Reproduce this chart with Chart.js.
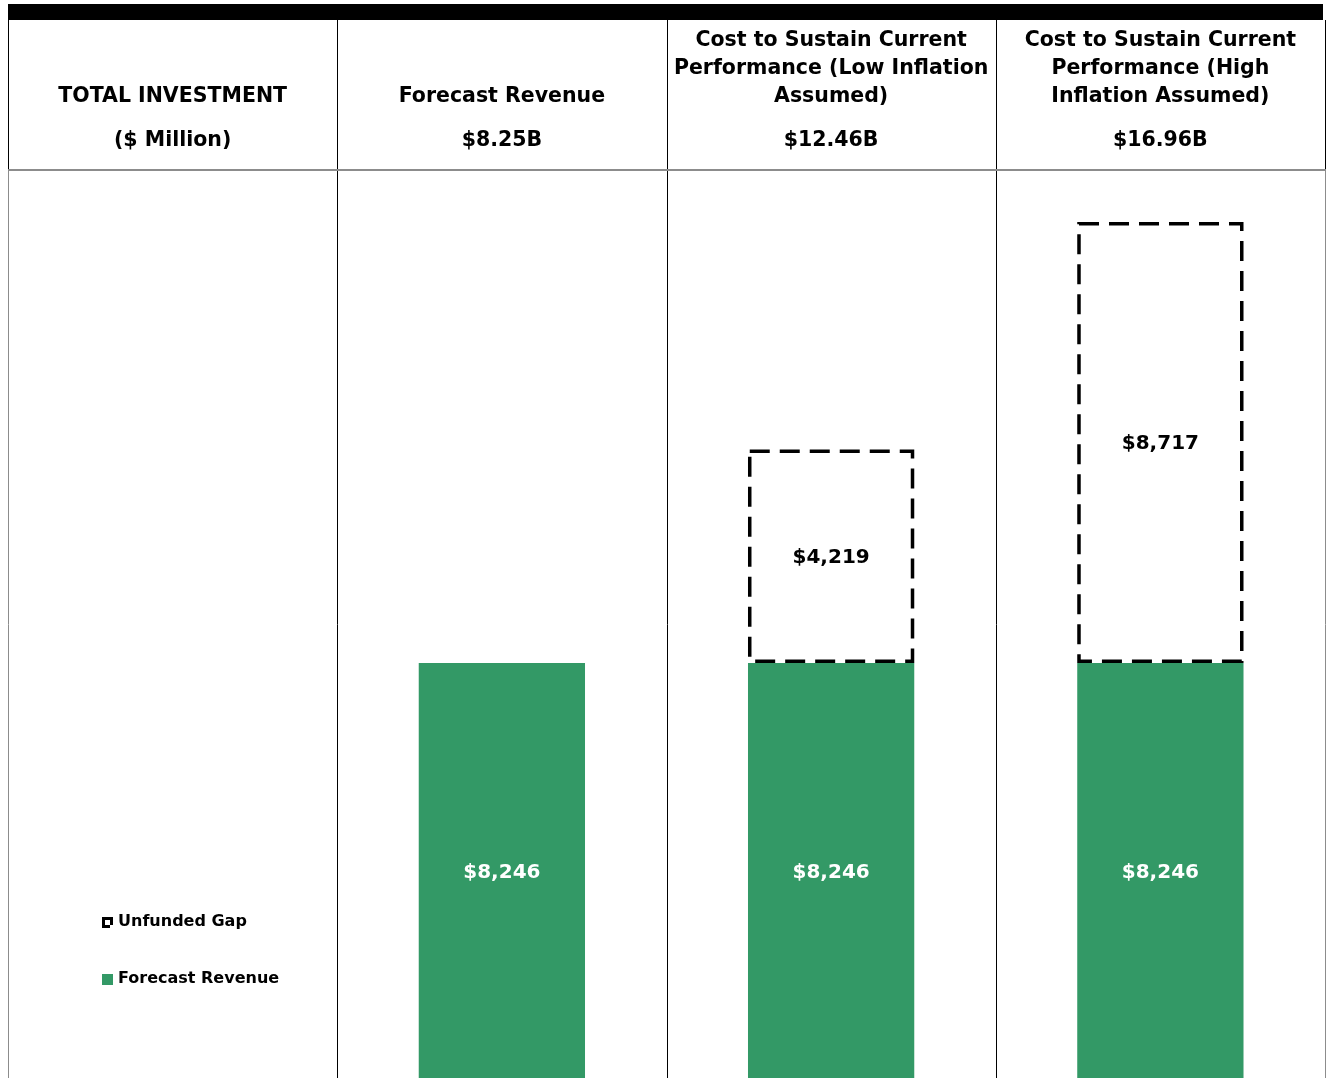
<!DOCTYPE html>
<html>
<head>
<meta charset="utf-8">
<title>Total Investment</title>
<script src="https://cdn.jsdelivr.net/npm/chart.js@4.4.1/dist/chart.umd.min.js"></script>
<style>
    html, body { margin: 0; padding: 0; background: #ffffff; }
    #wrap { width: 1330px; height: 1078px; }
</style>
</head>
<body>
<div id="wrap"><canvas id="investment-chart" width="1330" height="1078"></canvas></div>
<script>
// Table columns; the first one holds the row title and the legend
const categories = ['Total Investment', 'Forecast Revenue', 'Low Inflation', 'High Inflation'];
const headerLines = [
    ['TOTAL INVESTMENT'],
    ['Forecast Revenue'],
    ['Cost to Sustain Current', 'Performance (Low Inflation', 'Assumed)'],
    ['Cost to Sustain Current', 'Performance (High', 'Inflation Assumed)']
];
const headerTotals = ['($ Million)', '$8.25B', '$12.46B', '$16.96B'];

// Values in $ million
const forecastRevenue = [null, 8246, 8246, 8246];
const unfundedGap = [null, null, 4219, 8717];
// the bars run off the bottom edge, so the visible range starts just above zero
const yMin = 40;
const yMax = 17972;

const GREEN = '#339966';
const FONT = '"DejaVu Sans", Verdana, sans-serif';

function money(v) {
    return '$' + new Intl.NumberFormat('en-US').format(Math.round(v));
}

/**
 * Draws the header row, the column rules, value labels,
 * dashed outlines for the gap and the legend in the first column
 */
const tablePlugin = {
    id: 'tablePlugin',
    beforeDraw(chart) {
        const ctx = chart.ctx;
        const area = chart.chartArea;
        const xs = chart.scales.x;
        const half = (xs.getPixelForValue(1) - xs.getPixelForValue(0)) / 2;

        ctx.save();
        // thick black band on top
        ctx.fillStyle = '#000';
        ctx.fillRect(8, 4, 1315, 16);

        // column rules
        for (let i = 0; i <= categories.length; i++) {
            const x = Math.round(xs.getPixelForValue(i) - half) + 0.5;
            const edge = i === 0 || i === categories.length;
            ctx.strokeStyle = '#000';
            ctx.lineWidth = 1;
            ctx.beginPath();
            ctx.moveTo(x, 20);
            ctx.lineTo(x, area.top);
            ctx.stroke();
            ctx.strokeStyle = edge ? '#8c8c8c' : '#000';
            ctx.beginPath();
            ctx.moveTo(x, area.top);
            ctx.lineTo(x, chart.height);
            ctx.stroke();
        }

        // header bottom rule
        ctx.strokeStyle = '#8c8c8c';
        ctx.lineWidth = 2;
        ctx.beginPath();
        ctx.moveTo(8, area.top - 1);
        ctx.lineTo(1326, area.top - 1);
        ctx.stroke();

        // header text
        ctx.fillStyle = '#000';
        ctx.textAlign = 'center';
        ctx.textBaseline = 'middle';
        ctx.font = 'bold 20.5px ' + FONT;
        headerLines.forEach((lines, i) => {
            const cx = xs.getPixelForValue(i);
            lines.forEach((line, j) => {
                const y = 96.5 - (lines.length - 1 - j) * 28;
                ctx.fillText(line, cx, y);
            });
            ctx.fillText(headerTotals[i], cx, 140.5);
        });
        ctx.restore();
    },
    afterDatasetsDraw(chart) {
        const ctx = chart.ctx;
        ctx.save();

        // dashed outline around each gap bar
        const gapMeta = chart.getDatasetMeta(1);
        ctx.strokeStyle = '#000';
        ctx.lineWidth = 3.5;
        ctx.setLineDash([20, 10]);
        gapMeta.data.forEach((bar, i) => {
            if (unfundedGap[i] == null) return;
            const inset = ctx.lineWidth / 2;
            const left = bar.x - bar.width / 2 + inset;
            const right = bar.x + bar.width / 2 - inset;
            const top = bar.y + inset;
            const bottom = bar.base - inset;
            ctx.beginPath();
            ctx.moveTo(left, top);
            ctx.lineTo(right, top);
            ctx.lineTo(right, bottom);
            ctx.lineTo(left, bottom);
            ctx.closePath();
            ctx.stroke();
        });
        ctx.setLineDash([]);

        // value labels in the middle of each bar
        ctx.font = 'bold 20px ' + FONT;
        ctx.textAlign = 'center';
        ctx.textBaseline = 'middle';
        chart.data.datasets.forEach((ds, d) => {
            const meta = chart.getDatasetMeta(d);
            meta.data.forEach((bar, i) => {
                const v = ds.data[i];
                if (v == null) return;
                ctx.fillStyle = d === 0 ? '#ffffff' : '#000000';
                ctx.fillText(money(v), bar.x, (bar.y + bar.base) / 2 + 1.5);
            });
        });
        ctx.restore();
    },
    afterDraw(chart) {
        const ctx = chart.ctx;
        ctx.save();
        ctx.font = 'bold 16px ' + FONT;
        ctx.textBaseline = 'middle';
        ctx.textAlign = 'left';

        // legend, gap first
        const items = [
            { label: chart.data.datasets[1].label, y: 922, dashed: true },
            { label: chart.data.datasets[0].label, y: 979, dashed: false }
        ];
        items.forEach(item => {
            const top = item.y - 5;
            if (item.dashed) {
                // outlined marker with a break in the corner
                ctx.fillStyle = '#000';
                ctx.fillRect(102, top, 11, 11);
                ctx.fillStyle = '#fff';
                ctx.fillRect(105, top + 3, 5, 5);
                ctx.fillRect(110, top + 8, 3, 3);
            } else {
                ctx.fillStyle = GREEN;
                ctx.fillRect(102, top, 11, 11);
            }
            ctx.fillStyle = '#000';
            ctx.fillText(item.label, 118, item.y);
        });
        ctx.restore();
    }
};

new Chart(document.getElementById('investment-chart'), {
    type: 'bar',
    data: {
        labels: categories,
        datasets: [
            {
                label: 'Forecast Revenue',
                data: forecastRevenue,
                backgroundColor: GREEN,
                borderWidth: 0,
                categoryPercentage: 1,
                barPercentage: 0.505
            },
            {
                label: 'Unfunded Gap',
                data: unfundedGap,
                backgroundColor: 'rgba(0,0,0,0)',
                borderWidth: 0,
                categoryPercentage: 1,
                barPercentage: 0.505
            }
        ]
    },
    options: {
        responsive: false,
        animation: false,
        devicePixelRatio: 1,
        layout: {
            padding: { top: 171, left: 8, right: 5, bottom: 0 }
        },
        scales: {
            x: { stacked: true, display: false, offset: true },
            y: { stacked: true, display: false, min: yMin, max: yMax }
        },
        plugins: {
            legend: { display: false },
            tooltip: { enabled: false }
        }
    },
    plugins: [tablePlugin]
});
</script>
</body>
</html>
